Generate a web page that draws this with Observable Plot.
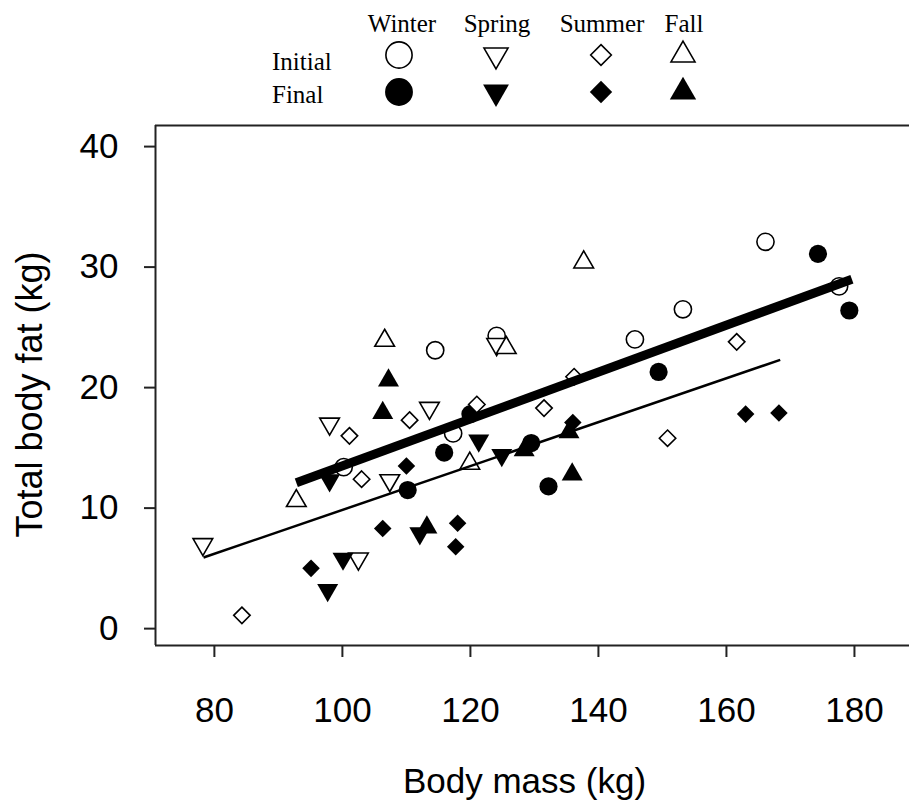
<!DOCTYPE html>
<html>
<head>
<meta charset="utf-8">
<script src="https://cdn.jsdelivr.net/npm/d3@7"></script>
<script src="https://cdn.jsdelivr.net/npm/@observablehq/plot@0.6"></script>
<style>
  html, body { margin: 0; padding: 0; background: #fff; }
  #wrap { width: 909px; }
  #legend svg, #chart svg { display: block; }
</style>
</head>
<body>
<div id="wrap">
  <div id="legend"></div>
  <div id="chart"></div>
</div>
<script>
// ---------- Data ----------
const seasons = ["Winter", "Spring", "Summer", "Fall"];
const stages = ["Initial", "Final"];

const winterInitialMass = [100.2, 114.5, 117.3, 124.1, 145.7, 153.2, 166.1, 177.6];
const winterInitialFat  = [13.4, 23.1, 16.2, 24.3, 24.0, 26.5, 32.1, 28.4];
const winterFinalMass   = [110.2, 115.9, 120.0, 129.5, 132.2, 149.4, 174.3, 179.2];
const winterFinalFat    = [11.5, 14.6, 17.8, 15.4, 11.8, 21.3, 31.1, 26.4];

const springInitialMass = [78.2, 98.0, 102.5, 107.4, 113.6, 124.1];
const springInitialFat  = [7.0, 17.0, 5.8, 12.3, 18.3, 23.6];
const springFinalMass   = [97.7, 98.0, 100.1, 112.1, 121.3, 124.9];
const springFinalFat    = [3.2, 12.3, 5.8, 7.9, 15.6, 14.4];

const summerInitialMass = [84.3, 101.1, 103.0, 110.5, 121.0, 131.5, 136.2, 150.8, 161.6];
const summerInitialFat  = [1.1, 16.0, 12.4, 17.3, 18.6, 18.3, 20.9, 15.8, 23.8];
const summerFinalMass   = [95.1, 106.3, 110.0, 118.0, 117.7, 136.0, 163.0, 168.2];
const summerFinalFat    = [5.0, 8.3, 13.5, 8.75, 6.8, 17.1, 17.8, 17.9];

const fallInitialMass   = [92.8, 106.6, 119.9, 125.6, 137.7];
const fallInitialFat    = [10.6, 23.9, 13.7, 23.3, 30.4];
const fallFinalMass     = [106.3, 107.2, 113.2, 128.4, 135.4, 135.9];
const fallFinalFat      = [17.9, 20.6, 8.4, 14.8, 16.3, 12.8];

// Regression lines (endpoints)
const fitStages = ["Initial", "Final"];
const fitMassStart = [92.8, 78.3];
const fitMassEnd   = [179.6, 168.4];
const fitFatStart  = [12.1, 5.9];
const fitFatEnd    = [29.0, 22.3];

const xTicks = [80, 100, 120, 140, 160, 180];
const yTicks = [0, 10, 20, 30, 40];
const xLabel = "Body mass (kg)";
const yLabel = "Total body fat (kg)";

// ---------- Build tables ----------
const groups = [
  ["Winter", "Initial", winterInitialMass, winterInitialFat],
  ["Winter", "Final", winterFinalMass, winterFinalFat],
  ["Spring", "Initial", springInitialMass, springInitialFat],
  ["Spring", "Final", springFinalMass, springFinalFat],
  ["Summer", "Initial", summerInitialMass, summerInitialFat],
  ["Summer", "Final", summerFinalMass, summerFinalFat],
  ["Fall", "Initial", fallInitialMass, fallInitialFat],
  ["Fall", "Final", fallFinalMass, fallFinalFat]
];
const points = groups.flatMap(([season, stage, mass, fat]) =>
  mass.map((m, i) => ({season, stage, mass: m, fat: fat[i]})));

const fits = fitStages.map((stage, i) => ({
  stage, x1: fitMassStart[i], x2: fitMassEnd[i], y1: fitFatStart[i], y2: fitFatEnd[i]
}));

// Inverted triangle symbol
const sqrt3 = Math.sqrt(3);
const triangleDown = {
  draw(context, size) {
    const y = -Math.sqrt(size / (sqrt3 * 3));
    context.moveTo(0, -y * 2);
    context.lineTo(-sqrt3 * y, y);
    context.lineTo(sqrt3 * y, y);
    context.closePath();
  }
};
const symbolBySeason = {Winter: "circle", Spring: triangleDown, Summer: "diamond2", Fall: "triangle"};
const d3SymbolBySeason = {Winter: d3.symbolCircle, Spring: triangleDown, Summer: d3.symbolDiamond2, Fall: d3.symbolTriangle};
const rBySeason = {Winter: 8.6, Spring: 7.3, Summer: 7.4, Fall: 7.3};

// ---------- Legend ----------
const legendSvg = d3.create("svg").attr("width", 909).attr("height", 110)
  .attr("font-family", "'Liberation Serif', 'Times New Roman', serif")
  .attr("font-size", 25).attr("fill", "#000");
const legendColX = {Winter: 399, Spring: 496, Summer: 601, Fall: 683};
const legendHeadX = {Winter: 402, Spring: 497, Summer: 602, Fall: 684};
const legendRowY = {Initial: 55, Final: 92};
const legendLabelY = {Initial: 70, Final: 103};
for (const s of seasons) {
  legendSvg.append("text").attr("x", legendHeadX[s]).attr("y", 32)
    .attr("text-anchor", "middle").text(s);
}
const legendSize = {
  Initial: {Winter: 540, Spring: 250, Summer: 272, Fall: 250},
  Final: {Winter: 610, Spring: 290, Summer: 320, Fall: 300}
};
for (const st of stages) {
  legendSvg.append("text").attr("x", 272).attr("y", legendLabelY[st]).text(st);
  for (const s of seasons) {
    legendSvg.append("path")
      .attr("transform", `translate(${legendColX[s]},${legendRowY[st]})`)
      .attr("d", d3.symbol(d3SymbolBySeason[s], legendSize[st][s])())
      .attr("fill", st === "Initial" ? "white" : "black")
      .attr("stroke", "black")
      .attr("stroke-width", st === "Initial" ? 1.6 : 0);
  }
}
document.getElementById("legend").append(legendSvg.node());

// ---------- Main chart ----------
const xDomain = [70.8, 188.6];
const yDomain = [-1.4, 41.75];

const dotMarks = seasons.flatMap(s => stages.map(st =>
  Plot.dot(points.filter(d => d.season === s && d.stage === st), {
    x: "mass", y: "fat",
    symbol: symbolBySeason[s],
    r: st === "Initial" ? rBySeason[s] : rBySeason[s] + 0.5,
    fill: st === "Initial" ? "white" : "black",
    stroke: "black",
    strokeWidth: st === "Initial" ? 1.6 : 0
  })));

const chart = Plot.plot({
  width: 909,
  height: 699,
  marginLeft: 155,
  marginRight: 0,
  marginTop: 15,
  marginBottom: 164,
  style: {background: "white", color: "#000", fontFamily: "'Liberation Sans', Arial, sans-serif"},
  x: {domain: xDomain, axis: null},
  y: {domain: yDomain, axis: null},
  marks: [
    ...dotMarks,
    Plot.link(fits.filter(d => d.stage === "Initial"), {
      x1: "x1", y1: "y1", x2: "x2", y2: "y2",
      stroke: "black", strokeWidth: 9, strokeLinecap: "butt"
    }),
    Plot.link(fits.filter(d => d.stage === "Final"), {
      x1: "x1", y1: "y1", x2: "x2", y2: "y2",
      stroke: "black", strokeWidth: 2.5, strokeLinecap: "butt"
    }),
    Plot.ruleY([yDomain[1]], {stroke: "#222", strokeWidth: 2}),
    Plot.ruleY([yDomain[0]], {stroke: "#222", strokeWidth: 2}),
    Plot.ruleX([xDomain[0]], {stroke: "#222", strokeWidth: 2}),
    Plot.axisY(yTicks, {tickSize: 11, tickPadding: 26, fontSize: 35, strokeWidth: 2, stroke: "#222", label: null}),
    Plot.axisX(xTicks, {tickSize: 12, tickPadding: 40, fontSize: 35, strokeWidth: 2, stroke: "#222", label: null}),
    Plot.text([xLabel], {frameAnchor: "bottom", textAnchor: "middle", dx: -8, dy: 147, fontSize: 35, text: d => d, fill: "#000"}),
    Plot.text([yLabel], {frameAnchor: "left", textAnchor: "middle", dx: -125, dy: 9, rotate: -90, fontSize: 36, text: d => d, fill: "#000"})
  ]
});
document.getElementById("chart").append(chart);
</script>
</body>
</html>
